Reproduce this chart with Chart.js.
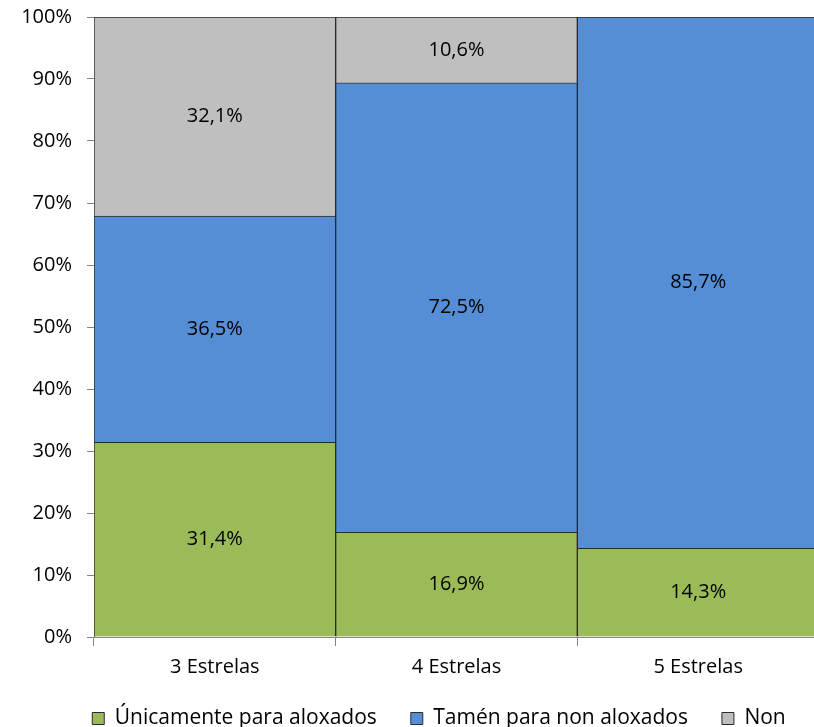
<!DOCTYPE html>
<html>
<head>
<meta charset="utf-8">
<script src="https://cdn.jsdelivr.net/npm/chart.js@4.4.1/dist/chart.umd.min.js"></script>
<style>
  html, body { margin: 0; padding: 0; background: #fff; overflow: hidden; }
  #wrap { width: 878px; height: 727px; }
</style>
</head>
<body>
<div id="wrap"><canvas id="grafico" width="878" height="727"></canvas></div>
<script>
// categorías e series (porcentaxes)
const categorias = ["3 Estrelas", "4 Estrelas", "5 Estrelas"];
const soAloxados = [31.4, 16.9, 14.3];
const tamenNonAloxados = [36.5, 72.5, 85.7];
const non = [32.1, 10.6, 0];
const ticksY = [0, 10, 20, 30, 40, 50, 60, 70, 80, 90, 100];

const fonte = "'Open Sans', Lato, sans-serif";
const ctx = document.getElementById("grafico");

// etiquetas de datos no medio de cada segmento
const etiquetas = {
  id: "etiquetas",
  afterDatasetsDraw(chart) {
    const c = chart.ctx;
    c.save();
    c.font = "20px " + fonte;
    c.fillStyle = "#000";
    c.textAlign = "center";
    c.textBaseline = "middle";
    chart.data.datasets.forEach((ds, i) => {
      chart.getDatasetMeta(i).data.forEach((el, j) => {
        const v = ds.data[j];
        if (!v) return;
        const txt = v.toFixed(1).replace(".", ",") + "%";
        c.fillText(txt, el.x, (el.y + el.base) / 2);
      });
    });
    c.restore();
  }
};

function serie(label, data, color) {
  return {
    label,
    data,
    backgroundColor: color,
    borderColor: "#2b2b2b",
    borderWidth: 1,
    categoryPercentage: 1,
    barPercentage: 1,
  };
}

new Chart(ctx, {
  type: "bar",
  data: {
    labels: categorias,
    datasets: [
      serie("Únicamente para aloxados", soAloxados, "#9bbb59"),
      serie("Tamén para non aloxados", tamenNonAloxados, "#558ed5"),
      serie("Non", non, "#bfbfbf"),
    ],
  },
  options: {
    responsive: false,
    animation: false,
    layout: { padding: { top: 17, left: 0, right: 0, bottom: -12 } },
    plugins: {
      tooltip: { enabled: false },
      legend: {
        position: "bottom",
        labels: {
          font: { family: fonte, size: 21 },
          color: "#000",
          boxWidth: 12,
          boxHeight: 12,
          padding: 34,
          generateLabels(chart) {
            return chart.data.datasets.map((ds, i) => ({
              text: ds.label,
              fillStyle: ds.backgroundColor,
              strokeStyle: "#2b2b2b",
              lineWidth: 1,
              datasetIndex: i,
            }));
          },
        },
      },
    },
    scales: {
      x: {
        stacked: true,
        afterFit(s) {
          s.height = 37;
          s._computeLabelArea = () => undefined; // non recortar as etiquetas
        },
        grid: { drawOnChartArea: false, tickLength: 9, color: "#868686", offset: true },
        border: { color: "#868686" },
        ticks: { font: { family: fonte, size: 20 }, color: "#000", padding: 9 },
      },
      y: {
        stacked: true,
        min: 0,
        max: 100,
        afterFit(s) {
          s.width = 94;
          s.paddingTop = 0;
          s.paddingBottom = 0;
        },
        afterBuildTicks(s) { s.ticks = ticksY.map(v => ({ value: v })); },
        grid: { drawOnChartArea: false, tickLength: 7, color: "#868686" },
        border: { color: "#868686" },
        ticks: {
          font: { family: fonte, size: 20 },
          color: "#000",
          padding: 15,
          callback: v => v + "%",
        },
      },
      y2: {
        position: "right",
        display: true,
        afterFit(s) { s.width = 59; },
        grid: { display: false },
        border: { display: false },
        ticks: { display: false },
      },
    },
  },
  plugins: [etiquetas],
});
</script>
</body>
</html>
